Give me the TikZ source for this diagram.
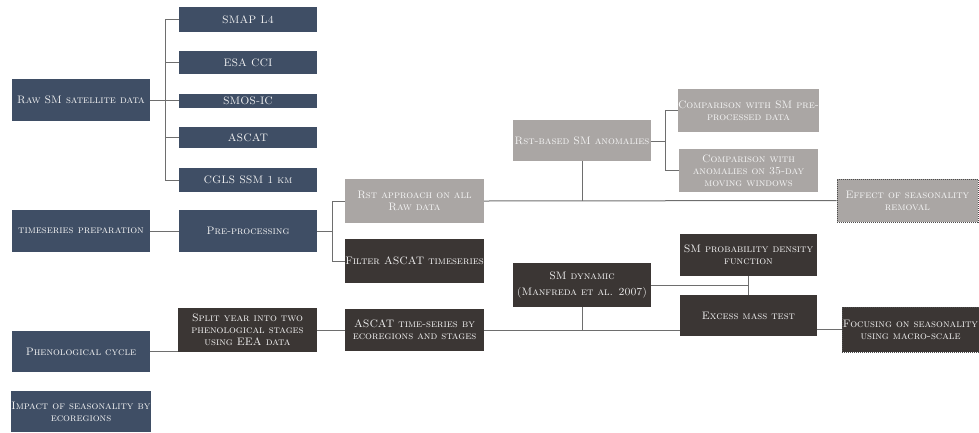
\documentclass[tikz,border=0pt]{standalone}
\usepackage{fontspec}
\definecolor{bluebox}{HTML}{3F4E65}
\definecolor{darkbox}{HTML}{3B3634}
\definecolor{greybox}{HTML}{AAA6A4}
\definecolor{conn}{HTML}{6E6E6E}
\definecolor{boxtext}{HTML}{F6F6F6}
\tikzset{
  bx/.style={rectangle, inner sep=0pt, align=center, text=boxtext,
    font=\fontsize{10.8}{11.8}\selectfont\scshape},
  bluebx/.style={bx, fill=bluebox},
  darkbx/.style={bx, fill=darkbox},
  greybx/.style={bx, fill=greybox},
  dashbx/.style={draw=black!70, dash pattern=on 1pt off 1pt, line width=0.6pt},
  cn/.style={draw=conn, line width=1pt},
  sz/.style 2 args={minimum width=#1pt, minimum height=#2pt},
}
\begin{document}
\begin{tikzpicture}[x=1pt,y=-1pt]
\useasboundingbox (0,0) rectangle (979,432);
% left column
\node[bluebx, sz={138}{42}] (raw) at (81,100) {Raw SM satellite data};
\node[bluebx, sz={138}{25}] (smap) at (248,19.5) {SMAP L4};
\node[bluebx, sz={138}{23}] (esa) at (248,62.5) {ESA CCI};
\node[bluebx, sz={138}{14}] (smos) at (248,101) {SMOS-IC};
\node[bluebx, sz={138}{21}] (ascat) at (248,137.5) {ASCAT};
\node[bluebx, sz={138}{24}] (cgls) at (248,180) {CGLS SSM 1 km};
\node[bluebx, sz={138}{42}] (tsprep) at (81,231) {timeseries preparation};
\node[bluebx, sz={138}{42}] (prep) at (248,231) {Pre-processing};
\node[darkbx, sz={139}{44}] (split) at (247.5,330) {Split year into two\\phenological stages\\using EEA data};
\node[bluebx, sz={138}{41}] (pheno) at (81,351.5) {Phenological cycle};
\node[bluebx, sz={138}{41}] (impact) at (81,411.5) {Impact of seasonality by\\ecoregions};
% middle
\node[greybx, sz={139}{44}] (rstapp) at (414.5,201) {Rst approach on all\\Raw data};
\node[darkbx, sz={139}{44}] (filter) at (414.5,261) {Filter ASCAT timeseries};
\node[darkbx, sz={139}{42}] (ascatts) at (414.5,330) {ASCAT time-series by\\ecoregions and stages};
\node[greybx, sz={138}{41}] (rstbased) at (582,140.5) {Rst-based SM anomalies};
\node[darkbx, sz={138}{44}] (smdyn) at (582,285) {SM dynamic\\[4pt](Manfreda et al. 2007)};
% right
\node[greybx, sz={139}{43}] (comp1) at (748.5,110.5) {Comparison with SM pre-\\processed data};
\node[greybx, sz={139}{43}] (comp2) at (748.5,170.5) {Comparison with\\anomalies on 35-day\\moving windows};
\node[greybx, dashbx, sz={141}{43}] (effect) at (907.5,200.5) {Effect of seasonality\\removal};
\node[darkbx, sz={137}{42}] (pdf) at (748.5,255) {SM probability density\\function};
\node[darkbx, sz={137}{41}] (excess) at (748.5,315.5) {Excess mass test};
\node[darkbx, dashbx, sz={137}{45}] (focus) at (910.5,329.5) {Focusing on seasonality\\using macro-scale};
% connectors
\coordinate (b1) at (165,100);
\draw[cn] (raw.east) -- (b1);
\draw[cn] (b1) |- (smap.west);
\draw[cn] (b1) |- (esa.west);
\draw[cn] (b1) -- (smos.west |- b1);
\draw[cn] (b1) |- (ascat.west);
\draw[cn] (b1) |- (cgls.west);
\draw[cn] (tsprep.east) -- (prep.west);
\coordinate (b2) at (332,231);
\draw[cn] (prep.east) -- (b2);
\draw[cn] (b2) |- (rstapp.west);
\draw[cn] (b2) |- (filter.west);
\draw[cn] (rstapp.east) -- (effect.west);
\draw[cn] (rstbased.south) -- (rstbased.south |- rstapp.east);
\coordinate (b3) at (665,141);
\draw[cn] (rstbased.east |- b3) -- (b3);
\draw[cn] (b3) |- (comp1.west);
\draw[cn] (b3) |- (comp2.west);
\draw[cn] (pheno.east) -- (pheno.east -| split.west);
\draw[cn] (split.east) -- (ascatts.west);
\draw[cn] (ascatts.east) -- (ascatts.east -| excess.west);
\draw[cn] (smdyn.south) -- (smdyn.south |- ascatts.east);
\draw[cn] (smdyn.east) -- (smdyn.east -| pdf.south);
\draw[cn] (pdf.south) -- (excess.north);
\draw[cn] (focus.west -| excess.east) -- (focus.west);
\end{tikzpicture}
\end{document}
